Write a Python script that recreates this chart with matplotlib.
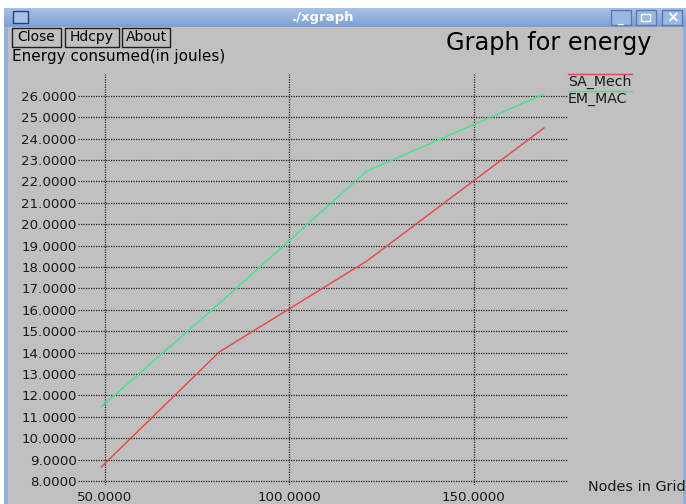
import numpy as np
import matplotlib.pyplot as plt
from matplotlib.patches import Rectangle

# data
nodes = [49, 81, 121, 169]
sa_mech = [8.65, 14.03, 18.28, 24.5]
em_mac_nodes = [49, 81, 121, 169]
em_mac = [11.46, 16.3, 22.49, 26.08]

yticks = [8, 9, 10, 11, 12, 13, 14, 15, 16, 17, 18, 19, 20, 21, 22, 23, 24, 25, 26]
xticks = [50, 100, 150]

W, H = 686, 504
grey = '#c0c0c0'

fig = plt.figure(figsize=(W / 100, H / 100), dpi=100)
fig.patch.set_facecolor('white')


def px(x0, y0, x1, y1):
    # pixel box -> figure fraction rect
    return [x0 / W, 1 - y1 / H, (x1 - x0) / W, (y1 - y0) / H]


# window frame
frame = fig.add_axes(px(4, 8, 686, 504))
frame.set_axis_off()
frame.add_patch(Rectangle((0, 0), 1, 1, transform=frame.transAxes, facecolor='#8fb0dc', edgecolor='none'))
body = fig.add_axes(px(8, 27, 683, 504))
body.set_axis_off()
body.add_patch(Rectangle((0, 0), 1, 1, transform=body.transAxes, facecolor=grey, edgecolor='none'))

# title bar gradient
bar = fig.add_axes(px(4, 8, 686, 27))
bar.set_axis_off()
grad = np.linspace(0, 1, 50).reshape(-1, 1)
bar.imshow(grad, aspect='auto', cmap=plt.matplotlib.colors.LinearSegmentedColormap.from_list('tb', ['#a8c2e6', '#7d9fd4']),
           extent=[0, 1, 0, 1])
bar.set_xlim(0, 1)
bar.set_ylim(0, 1)
fig.text(323 / W, 1 - 17 / H, './xgraph', color='white', fontsize=9.5, fontweight='bold', ha='center', va='center')
fig.patches.append(Rectangle((13 / W, 1 - 23 / H), 15 / W, 12 / H, transform=fig.transFigure,
                             facecolor='#a8c2e6', edgecolor='#2a3f7a', lw=1))
for x0 in [611, 636, 662]:
    fig.patches.append(Rectangle((x0 / W, 1 - 25 / H), 20 / W, 15 / H, transform=fig.transFigure,
                                 facecolor='#9bb8e2', edgecolor='#5a78b8', lw=1))
fig.text(621 / W, 1 - 20 / H, '_', color='white', fontsize=8, ha='center', va='center', fontweight='bold')
fig.patches.append(Rectangle((641 / W, 1 - 21 / H), 9 / W, 7 / H, transform=fig.transFigure,
                             facecolor='none', edgecolor='white', lw=1))
fig.text(672 / W, 1 - 17.5 / H, '×', color='white', fontsize=11, ha='center', va='center', fontweight='bold')

# buttons
for label, x0, x1 in [('Close', 12, 61), ('Hdcpy', 65, 119), ('About', 122, 170)]:
    fig.patches.append(Rectangle((x0 / W, 1 - 47 / H), (x1 - x0) / W, 19 / H, transform=fig.transFigure,
                                 facecolor=grey, edgecolor='#202020', lw=1))
    fig.text((x0 + x1) / 2 / W, 1 - 37 / H, label, fontsize=10, ha='center', va='center', color='black')

# plot area
ax = fig.add_axes(px(78, 74, 568, 485))
ax.set_facecolor('none')
ax.set_xlim(42.7, 175.5)
ax.set_ylim(7.81, 27.02)
for s in ax.spines.values():
    s.set_visible(False)
ax.set_xticks(xticks)
ax.set_xticklabels(['%.4f' % v for v in xticks])
ax.set_yticks(yticks)
ax.set_yticklabels(['%.4f' % v for v in yticks])
ax.tick_params(length=0, pad=1, labelsize=9.6, colors='#1a1a1a')
ax.tick_params(axis='x', pad=4)
ax.grid(True, color='#202020', linestyle=(0, (1, 1)), linewidth=0.9)

ax.plot(nodes, sa_mech, color='#e84545', lw=1, clip_on=False)
ax.plot(em_mac_nodes, em_mac, color='#3de68a', lw=1, clip_on=False)

# labels, title, legend
fig.text(549 / W, 1 - 43 / H, 'Graph for energy', fontsize=17.3, ha='center', va='center', color='black')
fig.text(12 / W, 1 - 57 / H, 'Energy consumed(in joules)', fontsize=11, ha='left', va='center', color='black')
fig.text(686 / W, 1 - 487 / H, 'Nodes in Grid', fontsize=10.4, ha='right', va='center', color='#1a1a1a')

for name, col, yl in [('SA_Mech', '#e84545', 74), ('EM_MAC', '#3de68a', 91)]:
    fig.add_artist(plt.Line2D([568 / W, 632 / W], [1 - yl / H, 1 - yl / H], color=col, lw=1, transform=fig.transFigure))
    fig.text(568 / W, 1 - (yl + 1) / H, name, fontsize=10.2, ha='left', va='top', color='#1a1a1a')

fig.savefig('out.png', dpi=100, facecolor=fig.get_facecolor())
